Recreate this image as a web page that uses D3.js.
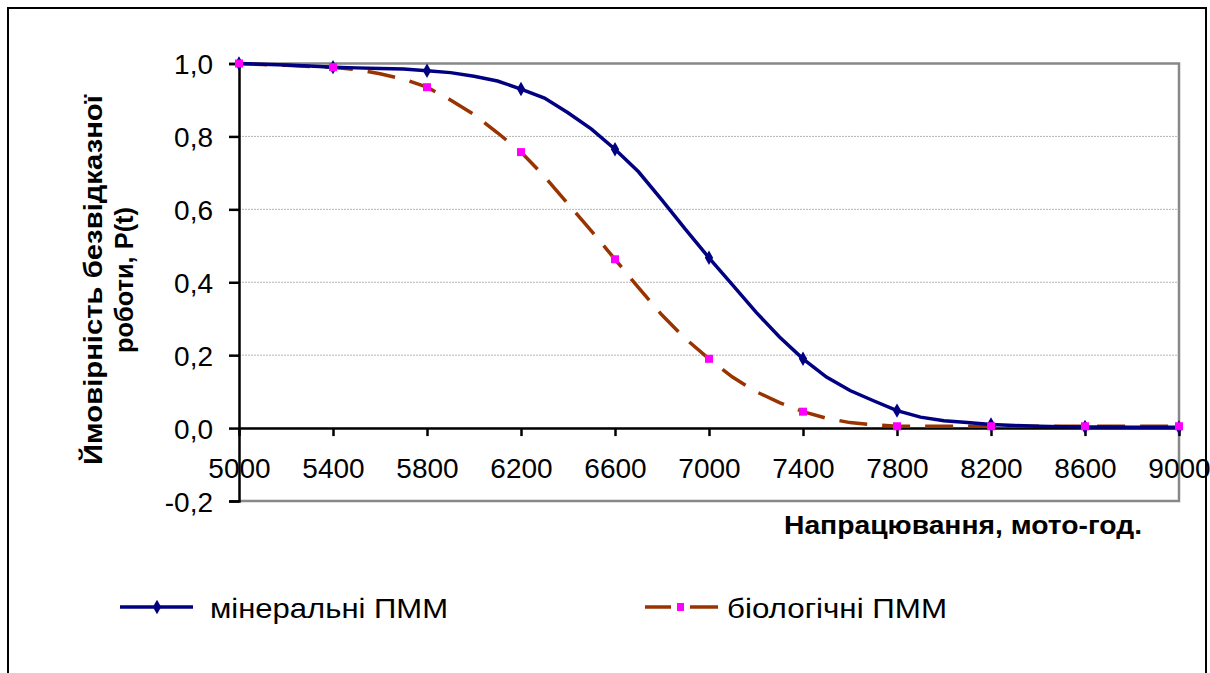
<!DOCTYPE html>
<html>
<head>
<meta charset="utf-8">
<script src="https://d3js.org/d3.v7.min.js"></script>
<style>
body { margin: 0; background: #fff; }
text { font-family: Arial, "Liberation Sans", sans-serif; }
</style>
</head>
<body>
<svg width="1210" height="673"></svg>
<script>
// hours of operation
var hours = [5000,5100,5200,5300,5400,5500,5600,5700,5800,5900,6000,6100,6200,6300,6400,6500,6600,6700,6800,6900,
  7000,7100,7200,7300,7400,7500,7600,7700,7800,7900,8000,8100,8200,8300,8400,8500,8600,8700,8800,8900,9000];
// mineral lubricants P(t)
var mineral = [1.0,0.998,0.996,0.993,0.99,0.988,0.986,0.985,0.98,0.975,0.965,0.952,0.93,0.905,0.865,0.82,0.765,0.703,0.625,0.545,
  0.467,0.393,0.318,0.25,0.19,0.14,0.103,0.075,0.048,0.03,0.02,0.015,0.01,0.007,0.005,0.004,0.003,0.003,0.002,0.002,0.002];
// biological lubricants P(t)
var biological = [1.0,0.997,0.995,0.992,0.99,0.983,0.972,0.957,0.935,0.9,0.86,0.81,0.757,0.69,0.615,0.54,0.463,0.385,0.31,0.245,
  0.19,0.14,0.1,0.07,0.045,0.027,0.015,0.009,0.005,0.005,0.005,0.005,0.005,0.005,0.005,0.005,0.005,0.005,0.005,0.005,0.005];
var markerHours = [5000,5400,5800,6200,6600,7000,7400,7800,8200,8600,9000];
var xTicks = [5000,5400,5800,6200,6600,7000,7400,7800,8200,8600,9000];
var yTicks = [-0.2,0,0.2,0.4,0.6,0.8,1.0];
var seriesNames = ["мінеральні ПММ", "біологічні ПММ"];

var svg = d3.select("svg");
var x = d3.scaleLinear().domain([5000, 9000]).range([239, 1179]);
var y = d3.scaleLinear().domain([-0.2, 1.0]).range([501, 63.5]);

// outer frame
svg.append("rect").attr("x", 8).attr("y", 8).attr("width", 1198).attr("height", 700)
  .attr("fill", "none").attr("stroke", "#000").attr("stroke-width", 2);

// gridlines
svg.append("g").selectAll("line").data([0, 0.2, 0.4, 0.6, 0.8]).join("line")
  .attr("x1", x(5000)).attr("x2", x(9000))
  .attr("y1", d => y(d)).attr("y2", d => y(d))
  .attr("stroke", "#b4b4b4").attr("stroke-width", 1).attr("stroke-dasharray", "2,1");

// plot area border (top/right/bottom gray)
svg.append("path")
  .attr("d", "M" + x(5000) + "," + y(1) + "H" + x(9000) + "V" + y(-0.2) + "H" + x(5000))
  .attr("fill", "none").attr("stroke", "#888").attr("stroke-width", 2.5);

// y axis
var yAxis = svg.append("g").attr("transform", "translate(" + x(5000) + ",0)")
  .call(d3.axisLeft(y).tickValues(yTicks).tickSize(10).tickPadding(16)
    .tickFormat(d => d3.format(".1f")(d).replace(".", ",").replace("−", "-")));
yAxis.select(".domain").attr("stroke", "#000").attr("stroke-width", 2.5);
yAxis.selectAll(".tick line").attr("stroke", "#000").attr("stroke-width", 2.5);
yAxis.selectAll("text").attr("font-size", 28).attr("fill", "#000").attr("dy", "0.36em");

// x axis at P = 0
var xAxis = svg.append("g").attr("transform", "translate(0," + y(0) + ")")
  .call(d3.axisBottom(x).tickValues(xTicks).tickSize(8).tickSizeOuter(0).tickPadding(22)
    .tickFormat(d3.format("d")));
xAxis.select(".domain").attr("stroke", "#000").attr("stroke-width", 2.5);
xAxis.selectAll(".tick line").attr("stroke", "#000").attr("stroke-width", 2.5);
xAxis.selectAll("text").attr("font-size", 28).attr("fill", "#000");

// lines
var line = d3.line().x((d, i) => x(hours[i])).y(d => y(d));
svg.append("path").datum(biological).attr("d", line)
  .attr("fill", "none").attr("stroke", "#993300").attr("stroke-width", 3.5)
  .attr("stroke-dasharray", "28,15");
svg.append("path").datum(mineral).attr("d", line)
  .attr("fill", "none").attr("stroke", "#000080").attr("stroke-width", 3.5);

var diamond = d3.symbol().type(d3.symbolDiamond).size(60);
svg.append("g").selectAll("path").data(markerHours).join("path")
  .attr("transform", h => "translate(" + x(h) + "," + y(mineral[hours.indexOf(h)]) + ")")
  .attr("d", diamond).attr("fill", "#000080");
svg.append("g").selectAll("rect").data(markerHours).join("rect")
  .attr("x", h => x(h) - 4).attr("y", h => y(biological[hours.indexOf(h)]) - 4)
  .attr("width", 8).attr("height", 8).attr("fill", "#ff00ff");

// axis titles
svg.append("text").attr("x", 1142).attr("y", 534).attr("text-anchor", "end")
  .attr("font-size", 25).attr("font-weight", "bold")
  .attr("textLength", 358).attr("lengthAdjust", "spacingAndGlyphs")
  .text("Напрацювання, мото-год.");
var yt = svg.append("text").attr("transform", "translate(102,280) rotate(-90)")
  .attr("text-anchor", "middle").attr("font-size", 25).attr("font-weight", "bold");
yt.append("tspan").attr("x", 0).attr("y", 0)
  .attr("textLength", 370).attr("lengthAdjust", "spacingAndGlyphs")
  .text("Ймовірність безвідказної");
yt.append("tspan").attr("x", 0).attr("y", 31)
  .attr("textLength", 146).attr("lengthAdjust", "spacingAndGlyphs")
  .text("роботи, P(t)");

// legend
var leg = [
  {x0: 120, tx: 210, tw: 238, color: "#000080", name: seriesNames[0]},
  {x0: 645, tx: 727, tw: 220, color: "#993300", name: seriesNames[1]}
];
leg.forEach(function(l, i) {
  var g = svg.append("g");
  if (i === 0) {
    g.append("line").attr("x1", l.x0).attr("x2", l.x0 + 73).attr("y1", 607).attr("y2", 607)
      .attr("stroke", l.color).attr("stroke-width", 3.5);
    g.append("path").attr("transform", "translate(" + (l.x0 + 37) + ",607)").attr("d", diamond).attr("fill", l.color);
  } else {
    g.append("line").attr("x1", l.x0).attr("x2", l.x0 + 26).attr("y1", 607).attr("y2", 607)
      .attr("stroke", l.color).attr("stroke-width", 3.5);
    g.append("line").attr("x1", l.x0 + 45).attr("x2", l.x0 + 73).attr("y1", 607).attr("y2", 607)
      .attr("stroke", l.color).attr("stroke-width", 3.5);
    g.append("rect").attr("x", l.x0 + 32).attr("y", 603).attr("width", 7).attr("height", 8).attr("fill", "#ff00ff");
  }
  g.append("text").attr("x", l.tx).attr("y", 618).attr("font-size", 28)
    .attr("textLength", l.tw).attr("lengthAdjust", "spacingAndGlyphs").text(l.name);
});
</script>
</body>
</html>
